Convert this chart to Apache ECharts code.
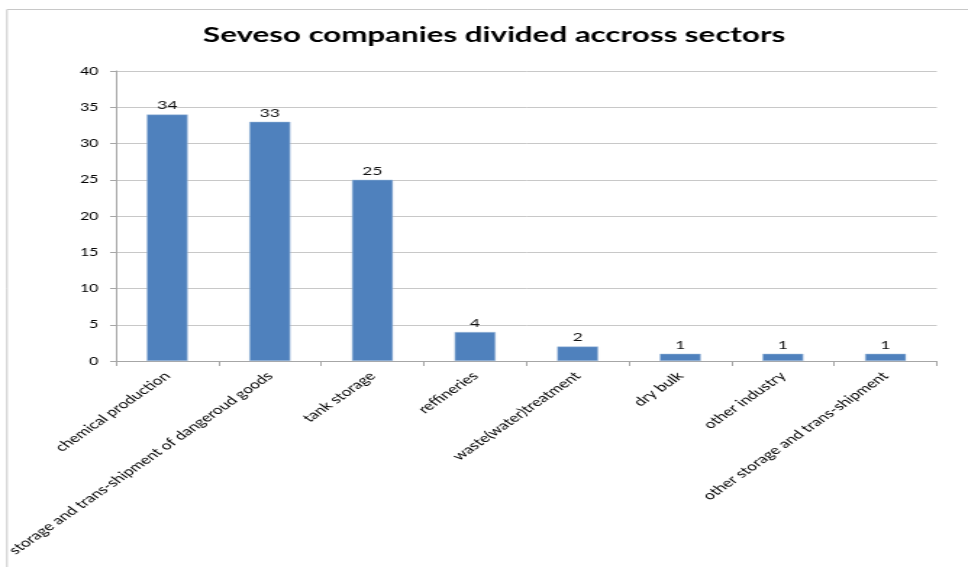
<!DOCTYPE html>
<html>
<head>
<meta charset="utf-8">
<script src="https://cdn.jsdelivr.net/npm/echarts@6/dist/echarts.min.js"></script>
<style>
  html, body { margin: 0; padding: 0; background: #fff; overflow: hidden; }
  /* The chart is laid out narrow and widened horizontally to fill the page */
  #chart { width: 668px; height: 567px; transform: scaleX(1.449); transform-origin: 0 0; }
</style>
</head>
<body>
<div id="chart"></div>
<script>
// Sectors and company counts
const sectors = [
  'chemical production',
  'storage and trans-shipment of dangeroud goods',
  'tank storage',
  'reffineries',
  'waste(water)treatment',
  'dry bulk',
  'other industry',
  'other storage and trans-shipment'
];
const companyCounts = [34, 33, 25, 4, 2, 1, 1, 1];
const yTicks = [0, 5, 10, 15, 20, 25, 30, 35, 40];

const chart = echarts.init(document.getElementById('chart'));
chart.setOption({
  animation: false,
  backgroundColor: '#fff',
  textStyle: { fontFamily: 'Lato' },
  title: {
    text: 'Seveso companies divided accross sectors',
    left: 336,
    textAlign: 'center',
    top: 19,
    textStyle: { fontFamily: 'Lato', fontWeight: 'bold', fontSize: 21.6, color: '#000' }
  },
  graphic: [{
    type: 'rect',
    shape: { x: 4.8, y: 9.5, width: 1000, height: 600 },
    style: { fill: 'none', stroke: '#c8c8c8', lineWidth: 1 },
    silent: true
  }],
  grid: { left: 80, right: 21.5, top: 71, bottom: 206, outerBoundsMode: 'none', containLabel: false },
  xAxis: {
    type: 'category',
    data: sectors,
    axisLine: { lineStyle: { color: '#a6a6a6' } },
    axisTick: { show: true, length: 5, lineStyle: { color: '#a6a6a6' } },
    axisLabel: { rotate: 45, interval: 0, fontSize: 12, color: '#000', margin: 13 }
  },
  yAxis: {
    type: 'value',
    min: yTicks[0],
    max: yTicks[yTicks.length - 1],
    interval: 5,
    axisLine: { show: true, lineStyle: { color: '#a6a6a6' } },
    axisTick: { show: true, length: 4, lineStyle: { color: '#a6a6a6' } },
    axisLabel: { fontSize: 11, color: '#000', margin: 12 },
    splitLine: { lineStyle: { color: '#c8c8c8' } }
  },
  series: [{
    type: 'bar',
    data: companyCounts,
    barWidth: 28.3,
    itemStyle: { color: '#4f81bd', borderColor: '#a7c0de', borderWidth: 0.5 },
    label: { show: true, position: 'top', fontSize: 12, color: '#111', distance: 3 }
  }]
});
</script>
</body>
</html>
